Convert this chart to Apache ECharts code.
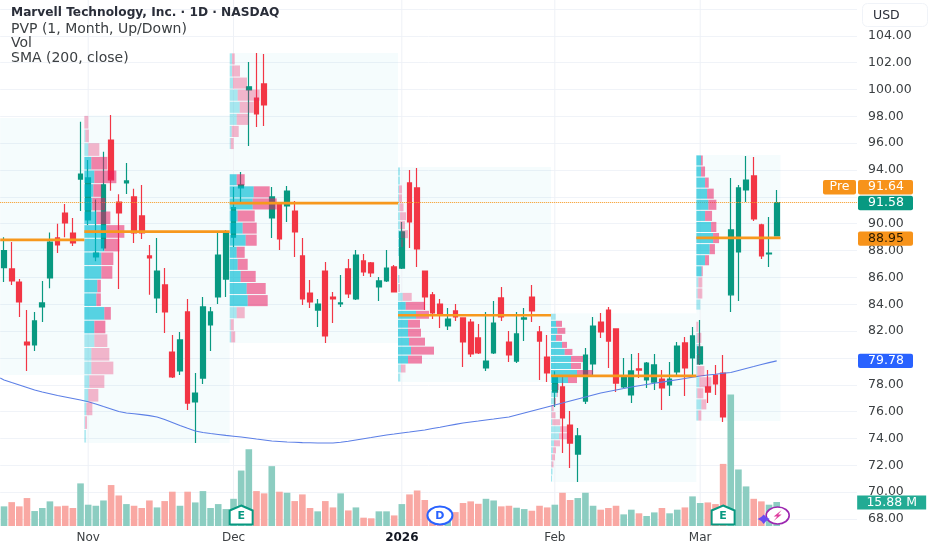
<!DOCTYPE html>
<html><head><meta charset="utf-8">
<style>html,body{margin:0;padding:0;background:#fff}#c{width:932px;height:550px}</style>
<script src="https://cdn.jsdelivr.net/npm/echarts@6/dist/echarts.min.js"></script>
</head><body><div id="c"></div>
<script>
const categories = ['2025-10-17','10-20','10-21','10-22','10-23','10-24','10-27','10-28','10-29','10-30','10-31','Nov','11-04','11-05','11-06','11-07','11-10','11-11','11-12','11-13','11-14','11-17','11-18','11-19','11-20','11-21','11-24','11-25','11-26','11-28','Dec','12-02','12-03','12-04','12-05','12-08','12-09','12-10','12-11','12-12','12-15','12-16','12-17','12-18','12-19','12-22','12-23','12-24','12-26','12-29','12-30','12-31','2026','01-05','01-06','01-07','01-08','01-09','01-12','01-13','01-14','01-15','01-16','01-20','01-21','01-22','01-23','01-26','01-27','01-28','01-29','01-30','Feb','02-03','02-04','02-05','02-06','02-09','02-10','02-11','02-12','02-13','02-17','02-18','02-19','02-20','02-23','02-24','02-25','02-26','02-27','Mar','03-03','03-04','03-05','03-06','03-09','03-10','03-11','03-12','03-13','03-16','f1','f2','f3','f4','f5','f6','f7','f8','f9','f10'];
const tickLabels = ['Nov','Dec','2026','Feb','Mar'];
const opens = [86.73,86.63,85.66,81.19,80.97,83.8,85.96,88.94,90.8,89.31,93.33,90.28,87.52,88.2,96.24,91.62,93.04,92.0,90.58,87.6,84.47,85.44,80.44,79.03,83.43,76.72,78.5,82.46,84.54,85.88,89.0,92.67,99.97,99.37,100.42,90.43,91.55,91.32,90.95,87.6,84.84,83.57,86.48,84.54,84.02,86.63,84.4,87.23,87.08,85.29,85.74,86.78,86.7,93.04,92.67,86.48,84.7,84.02,82.38,83.5,82.98,82.68,81.49,79.25,80.37,84.47,81.19,79.77,82.9,84.54,81.94,80.07,77.46,77.84,75.0,72.84,76.79,79.55,82.68,83.57,82.16,77.84,77.24,79.18,78.36,78.2,78.43,78.0,78.96,81.12,80.0,79.55,77.84,78.73,78.88,84.7,87.9,92.52,93.56,89.91,87.75,89.09];
const highs = [89.0,88.64,85.88,83.57,83.43,85.74,89.34,90.0,91.47,90.43,97.59,94.75,91.8,95.37,98.1,92.2,94.53,92.6,92.89,88.42,88.94,86.7,81.71,81.94,84.4,78.88,84.54,83.8,89.31,89.53,92.74,93.86,102.05,102.73,102.65,92.74,91.62,92.82,91.7,88.94,85.8,84.4,87.15,84.92,86.18,87.38,88.05,87.75,87.15,86.03,88.05,86.93,90.13,94.0,94.15,86.5,84.92,84.4,83.72,84.02,83.0,82.9,82.53,83.43,84.25,85.29,82.0,83.43,83.72,85.44,82.38,81.71,79.0,78.66,76.05,74.78,80.74,83.05,83.35,83.8,82.2,80.0,80.3,80.37,79.7,80.3,79.1,79.7,81.19,81.56,82.31,82.83,79.1,79.48,80.22,93.41,92.89,95.05,94.98,90.0,90.5,92.52];
const lows = [85.66,85.44,83.05,79.03,80.52,82.68,85.2,87.82,89.0,88.34,90.95,89.9,87.2,88.0,92.45,85.14,92.22,88.57,88.87,84.7,83.35,81.86,78.5,78.73,76.12,73.66,78.06,80.52,84.02,84.54,88.27,91.55,95.8,97.2,97.28,88.94,88.05,90.13,87.52,83.95,83.72,82.31,81.12,82.6,83.8,84.47,84.32,86.1,86.03,84.25,85.66,84.9,86.63,88.2,86.78,83.57,82.9,82.23,82.08,82.75,79.33,80.07,80.3,79.03,80.3,82.75,79.7,79.62,81.26,82.68,78.36,78.2,76.35,72.92,71.8,70.76,76.57,78.73,81.49,79.25,77.46,77.76,76.64,78.5,77.76,77.61,76.12,77.17,78.66,77.17,78.58,79.48,76.64,77.24,75.23,83.43,84.25,91.62,90.2,87.38,86.78,89.08];
const closes = [88.0,85.74,84.17,80.97,82.76,84.1,88.64,88.42,90.06,88.57,93.7,93.41,87.82,92.9,93.27,90.8,93.19,89.31,89.31,87.45,86.48,83.43,78.58,81.34,76.64,77.39,83.8,83.43,87.67,89.31,91.2,92.89,100.2,98.18,98.85,92.0,88.87,92.44,89.39,84.4,84.17,84.02,81.64,84.4,84.1,84.77,87.67,86.41,86.33,85.74,86.7,84.92,89.39,90.13,88.12,84.54,83.35,83.2,82.9,83.05,81.19,80.3,80.37,79.77,82.6,83.05,80.22,81.79,82.98,83.5,81.26,78.88,78.66,75.53,73.66,74.19,80.22,82.38,81.94,81.26,78.13,78.58,79.03,79.1,79.62,79.48,77.76,78.43,80.89,79.25,81.64,80.82,77.46,78.06,75.6,89.54,92.67,93.26,90.36,87.6,87.82,91.58];
const volumes = [13.0,15.8,13.0,18.5,9.9,11.9,16.3,13.0,13.4,11.9,28.2,14.1,13.4,16.9,27.1,20.2,14.5,13.4,11.9,16.9,12.3,16.5,22.7,13.4,22.7,15.6,23.1,11.9,14.5,11.2,18.0,36.7,50.8,23.1,21.6,39.6,22.7,22.0,16.5,20.9,11.9,9.7,16.5,12.3,21.6,10.3,12.3,5.5,5.1,9.7,9.7,7.0,14.5,20.9,23.5,17.2,8.8,9.9,7.7,9.2,15.2,16.3,14.7,18.0,16.9,13.0,13.4,12.1,11.2,10.1,13.4,12.3,14.1,22.0,17.2,18.5,22.0,13.4,10.8,11.9,13.4,7.7,10.8,8.4,6.6,9.0,11.9,8.4,10.8,12.3,19.6,15.2,15.6,14.5,41.1,87.1,37.4,26.2,18.0,16.3,14.1,15.88];
const sma200 = [78.36,78.17,77.99,77.80,77.61,77.46,77.33,77.20,77.09,76.98,76.87,76.74,76.57,76.38,76.20,76.01,75.90,75.84,75.78,75.70,75.60,75.41,75.19,74.97,74.76,74.56,74.45,74.37,74.30,74.23,74.17,74.11,74.04,73.96,73.89,73.81,73.78,73.74,73.72,73.69,73.68,73.66,73.66,73.66,73.72,73.79,73.89,73.98,74.07,74.17,74.26,74.33,74.41,74.48,74.56,74.63,74.74,74.84,74.95,75.05,75.15,75.23,75.30,75.38,75.45,75.53,75.60,75.75,75.90,76.05,76.20,76.35,76.50,76.64,76.79,76.94,77.09,77.24,77.39,77.50,77.61,77.72,77.84,77.93,78.02,78.11,78.20,78.29,78.38,78.47,78.57,78.66,78.73,78.79,78.86,78.92,79.07,79.22,79.36,79.51,79.65,79.78];
const smaAtLeftEdge = 78.5;

// Volume-profile periods: first bar, last bar (exclusive), high, low, point of control
const periodStart = [0,11,30,52,72,91];
const periodEnd   = [11,30,52,72,91,102];
const periodHigh  = [97.88,98.07,102.73,94.23,83.33,95.13];
const periodLow   = [78.73,73.66,81.12,78.21,70.76,75.3];
const periodPoc   = [88.8,89.41,91.53,83.18,78.66,88.95];
// Profile rows (24 per month), top to bottom
const novUp   = [0,1,4,7,10,9,8,12,22,20,17,17,13,12,20,10,10,7,7,5,4,2,0.7,1.5];
const novDown = [4,3.5,11,16,22,8,13,14,18,15,12,11,3.5,4.5,6.5,11,13,18,22,15,10,6,2,0];
const decUp   = [2.3,2.3,3.3,8,10,7,2,1,0,0,7,24,23,8,13,16,7,8,11,17,18,7,1,1.5];
const decDown = [2.7,8,14,22,14,12,7,3,0,0,8,16,24,17,14,11,8,10,15,19,20,8,3,4];
const janUp   = [2,2,1,1,1.5,2,2,3,3,1,0,0,1,0.5,4.7,7.7,18,10,10,11,13,10,3,2.3];
const janDown = [0,0,3,3,4,6,5,7,2,0,0,0,0.5,1.5,9,19,13,12,13,16,23,14,4.5,0];
const febUp   = [4.7,5,6.3,5,11,13.7,20,20,26,17,6,6,3,0.7,0.5,1.3,9,8,3,2,1,0.5,1.5,1];
const febDown = [0,6,8,6,5,7.7,12,10,16,9,2,1,2,2,4,8,7,10,6,3,3,2,0,0];
const marUp   = [4.7,4.7,8.7,10.7,12,8.7,14.7,16.7,13.3,8.7,5.3,2,1.3,4,0,0,1,2,1,1,3,1,5,2];
const marDown = [1.7,4,3.7,6.7,8,7,5.3,6,5.3,4,1,4,4.7,0,0,2,4,2,2,7,12,6,5,3];
const valueAreaFirst = [null,3,10,15,1,0];
const valueAreaLast  = [null,15,20,21,9,10];

const barPx = 7.65, gridLeft = 0.2, gridW = 856.8;
const UP='#089981', DOWN='#f23645', VOLUP='#8ccdc1', VOLDOWN='#f9a8a3', ORANGE='#f7981d';
const FONT='"DejaVu Sans",sans-serif';

const profiles = [null,[novUp,novDown],[decUp,decDown],[janUp,janDown],[febUp,febDown],[marUp,marDown]];
const rowData = [];
profiles.forEach((p,k)=>{
  if(!p) return;
  const step=(periodHigh[k]-periodLow[k])/24;
  for(let r=0;r<24;r++){
    if(p[0][r]+p[1][r]===0) continue;
    const va = r>=valueAreaFirst[k]&&r<=valueAreaLast[k]?1:0;
    rowData.push([periodStart[k],periodHigh[k]-step*r,periodHigh[k]-step*(r+1),p[0][r]/barPx,p[1][r]/barPx,va]);
  }
});
const bgData = periodStart.map((s,k)=>[s,periodEnd[k],periodHigh[k],periodLow[k]]);
const pocData = periodStart.map((s,k)=>[s,periodEnd[k],periodPoc[k]]);

const candleData = categories.slice(0,opens.length).map((c,i)=>[opens[i],closes[i],lows[i],highs[i]]);
const volData = volumes.map((v,i)=>({value:v,itemStyle:{color:closes[i]>=opens[i]?VOLUP:VOLDOWN}}));
const smaData = [[0,smaAtLeftEdge]].concat(sma200.map((v,i)=>[i+0.5,v]));

const monthIdx = tickLabels.map(t=>categories.indexOf(t));

// Price badges on the right scale
const badges = [[91.64,'91.64','#f7931a','#fff',-14.5],[91.58,'91.58','#089981','#fff',0.5],[88.95,'88.95','#f7931a','#2a1a00',0.8],[79.78,'79.78','#2962ff','#fff',0]];
// Event markers [bar index, label]
const events = [[31,'E'],[56,'D'],[94,'E'],[101,'S']];
const hiddenPriceLabels = [106,92,80];

function rect(x,y,w,h,fill){return {type:'rect',shape:{x,y,width:w,height:h},style:{fill}};}

const option = {
  animation:false, backgroundColor:'#fff', textStyle:{fontFamily:FONT},
  title:[
    {text:'Marvell Technology, Inc. · 1D · NASDAQ',left:6,top:2,textStyle:{fontFamily:FONT,fontSize:12.2,fontWeight:'bold',color:'#2a2e39'}},
    {text:'PVP (1, Month, Up/Down)',left:6,top:17,textStyle:{fontFamily:FONT,fontSize:14,fontWeight:'normal',color:'#3c4043'}},
    {text:'Vol',left:6,top:31,textStyle:{fontFamily:FONT,fontSize:14,fontWeight:'normal',color:'#3c4043'}},
    {text:'SMA (200, close)',left:6,top:46,textStyle:{fontFamily:FONT,fontSize:14,fontWeight:'normal',color:'#3c4043'}}
  ],
  grid:[
    {left:gridLeft,width:gridW,top:9,height:510},
    {left:gridLeft,width:gridW,top:390,height:136}
  ],
  xAxis:[
    {type:'category',gridIndex:0,data:categories,axisLine:{show:false},axisTick:{show:false},axisLabel:{show:false},splitLine:{show:false}},
    {type:'category',gridIndex:1,data:categories,axisLine:{show:false},axisTick:{show:false},splitLine:{show:false},
      axisLabel:{margin:6,fontFamily:FONT,fontSize:12,color:'#3c4043',hideOverlap:false,
        interval:(i)=>monthIdx.includes(i),
        formatter:(v)=>v==='2026'?'{b|2026}':v,
        rich:{b:{fontWeight:'bold',fontFamily:FONT,fontSize:12,color:'#131722'}}}},
    {type:'value',gridIndex:0,min:0,max:112,show:false}
  ],
  yAxis:[
    {type:'value',gridIndex:0,min:68,max:106,interval:2,position:'right',axisLine:{show:false},axisTick:{show:false},
      splitLine:{lineStyle:{color:'#f0f3f8',width:1}},
      axisLabel:{margin:11,fontFamily:FONT,fontSize:12.5,color:'#3c4043',align:'left',
        formatter:(v)=>hiddenPriceLabels.includes(v)?'':v.toFixed(2)}},
    {type:'value',gridIndex:1,min:0,max:90,show:false}
  ],
  graphic:[
    {type:'rect',left:862,top:3,shape:{width:65,height:23,r:5},style:{fill:'#fff',stroke:'#f0f3f8',lineWidth:1},z:50},
    {type:'text',left:873,top:9,style:{text:'USD',fill:'#2a2e39',font:'12.5px '+FONT},z:51}
  ],
  series:[
    {name:'Period background',type:'custom',xAxisIndex:2,yAxisIndex:0,z:1,silent:true,data:bgData,
      renderItem:(p,api)=>{
        const a=api.coord([api.value(0),api.value(2)]),b=api.coord([api.value(1),api.value(3)]);
        return {type:'rect',shape:{x:a[0],y:a[1],width:b[0]-a[0],height:b[1]-a[1]},style:{fill:'rgba(0,188,212,0.04)'}};
      }},
    {name:'Month lines',type:'custom',xAxisIndex:0,yAxisIndex:0,z:1,silent:true,clip:false,data:monthIdx.map(i=>[i,106]),
      renderItem:(p,api)=>{
        const a=api.coord([api.value(0),api.value(1)]);
        return {type:'line',shape:{x1:a[0],y1:0,x2:a[0],y2:526},style:{stroke:'#eef1f6',lineWidth:1}};
      }},
    {name:'Vol',type:'bar',xAxisIndex:1,yAxisIndex:1,z:2,barWidth:6.6,data:volData},
    {name:'Price',type:'candlestick',xAxisIndex:0,yAxisIndex:0,z:3,barWidth:5.2,data:candleData,
      itemStyle:{color:UP,color0:DOWN,borderColor:UP,borderColor0:DOWN,borderWidth:1.2},
      markLine:{silent:true,symbol:'none',label:{show:false},lineStyle:{color:ORANGE,type:'dotted',width:1},data:[{yAxis:91.58}],animation:false}},
    {name:'SMA (200, close)',type:'line',xAxisIndex:2,yAxisIndex:0,z:4,data:smaData,symbol:'none',smooth:false,lineStyle:{color:'#5c7fe6',width:1.1}},
    {name:'PVP',type:'custom',xAxisIndex:2,yAxisIndex:0,z:5,silent:true,data:rowData,
      renderItem:(p,api)=>{
        const s=api.value(0),hi=api.value(1),lo=api.value(2),u=api.value(3),d=api.value(4),va=api.value(5);
        const a=api.coord([s,hi]),b=api.coord([s+u,lo]),c=api.coord([s+u+d,lo]);
        const y=a[1]+0.5,h=b[1]-a[1]-1;
        return {type:'group',children:[
          rect(a[0],y,b[0]-a[0],h,va?'rgba(0,188,212,0.65)':'rgba(0,188,212,0.32)'),
          rect(b[0],y,c[0]-b[0],h,va?'rgba(233,30,99,0.55)':'rgba(233,30,99,0.32)')
        ]};
      }},
    {name:'POC',type:'custom',xAxisIndex:2,yAxisIndex:0,z:6,silent:true,data:pocData,
      renderItem:(p,api)=>{
        const a=api.coord([api.value(0),api.value(2)]),b=api.coord([api.value(1),api.value(2)]);
        return {type:'line',shape:{x1:a[0],y1:a[1],x2:b[0],y2:b[1]},style:{stroke:ORANGE,lineWidth:2.7}};
      }},
    {name:'Price badges',type:'custom',xAxisIndex:2,yAxisIndex:0,z:20,silent:true,clip:false,data:badges.map(b=>[112,b[0],b[1]]),
      renderItem:(p,api)=>{
        const i=p.dataIndex,b=badges[i];const a=api.coord([api.value(0),api.value(1)]);
        const cy=a[1]+b[4],x=a[0]+1;
        const kids=[
          {type:'rect',shape:{x:x,y:cy-7.2,width:55,height:14.4,r:2},style:{fill:b[2]}},
          {type:'text',style:{x:x+28,y:cy,text:b[1],fill:b[3],font:'12.5px '+FONT,align:'center',verticalAlign:'middle'}}
        ];
        if(i===0){
          kids.push({type:'rect',shape:{x:x-35,y:cy-7.2,width:33,height:14.4,r:2},style:{fill:b[2]}});
          kids.push({type:'text',style:{x:x-18.5,y:cy,text:'Pre',fill:'#fff',font:'12.5px '+FONT,align:'center',verticalAlign:'middle'}});
        }
        return {type:'group',children:kids};
      }},
    {name:'Volume badge',type:'custom',xAxisIndex:1,yAxisIndex:1,z:20,silent:true,clip:false,data:[[111,volumes[volumes.length-1]]],
      renderItem:(p,api)=>{
        const a=api.coord([api.value(0),api.value(1)]);const x=a[0]+4,cy=a[1]+0.5;
        return {type:'group',children:[
          {type:'rect',shape:{x:x,y:cy-7,width:69,height:14},style:{fill:'#22ab94'}},
          {type:'text',style:{x:x+34.5,y:cy,text:'15.88 M',fill:'#fff',font:'12.5px '+FONT,align:'center',verticalAlign:'middle'}}
        ]};
      }},
    {name:'Events',type:'custom',xAxisIndex:1,yAxisIndex:1,z:21,silent:true,clip:false,data:events.map(e=>[e[0],0]),
      renderItem:(p,api)=>{
        const e=events[p.dataIndex];const a=api.coord([api.value(0),api.value(1)]);
        const x=a[0],y=a[1]-10.5;
        if(e[1]==='E'){
          return {type:'group',children:[
            {type:'polygon',shape:{points:[[x,y-10],[x+11.5,y-5],[x+11.5,y+9],[x-11.5,y+9],[x-11.5,y-5]]},style:{fill:'#fff',stroke:'#089981',lineWidth:2}},
            {type:'text',style:{x:x,y:y+1,text:'E',fill:'#089981',font:'bold 11px '+FONT,align:'center',verticalAlign:'middle'}}
          ]};
        }
        if(e[1]==='D'){
          return {type:'group',children:[
            {type:'ellipse',shape:{cx:x+7.5,cy:y,rx:12.5,ry:9},style:{fill:'#fff',stroke:'#2962ff',lineWidth:2}},
            {type:'text',style:{x:x+7.5,y:y+0.5,text:'D',fill:'#2962ff',font:'bold 11px '+FONT,align:'center',verticalAlign:'middle'}}
          ]};
        }
        const cx=x+1;
        return {type:'group',children:[
          {type:'ellipse',shape:{cx:cx,cy:y,rx:11.5,ry:8.5},style:{fill:'#fff',stroke:'#9c27b0',lineWidth:1.6}},
          {type:'polygon',shape:{points:[[cx+4,y-5.5],[cx-4,y+1],[cx-0.5,y+1],[cx-4,y+5.5],[cx+4,y-1],[cx+0.5,y-1]]},style:{fill:'#e040a0'}},
          {type:'polygon',shape:{points:[[cx-14,y-1],[cx-11.5,y+1.5],[cx-8,y+3.5],[cx-11.5,y+5.5],[cx-14,y+8.5],[cx-16.5,y+5.5],[cx-20,y+3.5],[cx-16.5,y+1.5]]},style:{fill:'#6a4cf0'}}
        ]};
      }}
  ]
};
echarts.init(document.getElementById('c'),null,{renderer:'canvas'}).setOption(option);
</script></body></html>
